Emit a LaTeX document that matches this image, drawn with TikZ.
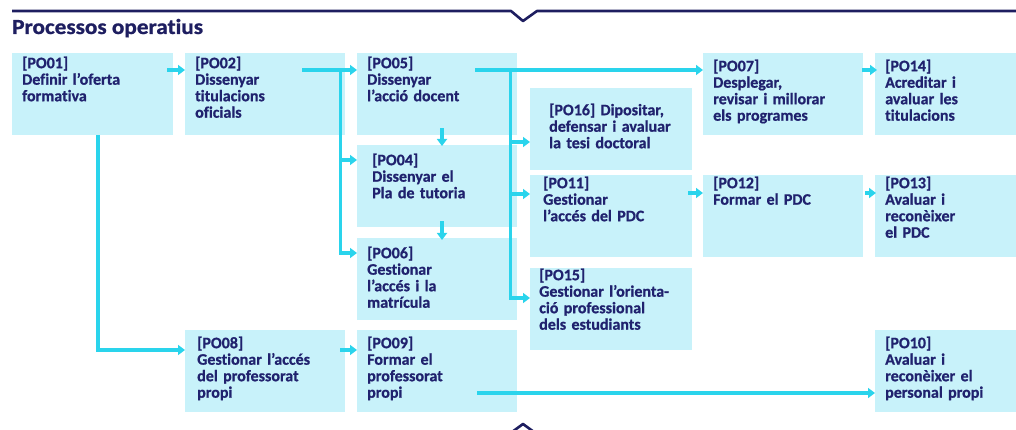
\documentclass[tikz,border=0pt]{standalone}
\usepackage{fontspec}
\setmainfont{Carlito}[Ligatures={NoCommon}, BoldFeatures={FakeBold=0.8}]
\newfontfamily\titlefont{Carlito}[FakeStretch=1.08, Ligatures={NoCommon}, BoldFeatures={FakeBold=1}]
\usetikzlibrary{arrows.meta}
\definecolor{boxfill}{RGB}{200,242,250}
\definecolor{linkcyan}{RGB}{42,212,236}
\definecolor{navy}{RGB}{32,34,110}
\definecolor{barnavy}{RGB}{30,30,96}
\tikzset{
  proc/.style={fill=boxfill, anchor=north west, align=left, text=navy,
    font=\bfseries\fontsize{16}{16.5}\selectfont,
    inner xsep=10pt, inner ysep=0pt, text width=140pt},
  txtop/.code={\pgfmathsetlengthmacro\procdepth{82pt-#1pt}%
    \tikzset{text height=#1pt, text depth/.expanded=\procdepth}},
  link/.style={draw=linkcyan, line width=3.4pt, -{Triangle[width=10pt,length=7pt]}},
  frameline/.style={draw=barnavy, line width=2.6pt, line join=round}
}
\begin{document}
\begin{tikzpicture}[x=1pt, y=-1pt]
  \useasboundingbox (0,0) rectangle (1016,430);
  % frame
  \draw[frameline] (12,11) -- (511,11) -- (523,21) -- (537,11) -- (1016,11);
  \draw[frameline] (512,432) -- (523,424) -- (534,432);
  \node[anchor=base west, text=barnavy, inner sep=0pt,
    font=\titlefont\bfseries\fontsize{21.5}{24}\selectfont] (title) at (12,34) {Processos operatius};
  % boxes
  \node[proc, txtop=15, text width=141pt] (po01) at (12,53) {[PO01]\\Definir l’oferta\\formativa};
  \node[proc, txtop=15] (po02) at (185,53) {[PO02]\\Dissenyar\\titulacions\\oficials};
  \node[proc, txtop=15] (po05) at (357,53) {[PO05]\\Dissenyar\\l’acció docent};
  \node[proc, txtop=20, inner xsep=15pt, text width=130pt] (po04) at (357,145) {[PO04]\\Dissenyar el\\Pla de tutoria};
  \node[proc, txtop=20] (po06) at (357,238) {[PO06]\\Gestionar\\l’accés i la\\matrícula};
  \node[proc, txtop=27, inner xsep=19pt, text width=124pt] (po16) at (530,88) {[PO16] Dipositar,\\defensar i avaluar\\la tesi doctoral};
  \node[proc, txtop=13, inner xsep=13pt, text width=136pt] (po11) at (530,175) {[PO11]\\Gestionar\\l’accés del PDC};
  \node[proc, txtop=12, inner xsep=9pt, text width=144pt] (po15) at (530,268) {[PO15]\\Gestionar l’orienta-\\ció professional\\dels estudiants};
  \node[proc, txtop=18] (po07) at (703,53) {[PO07]\\Desplegar,\\revisar i millorar\\els programes};
  \node[proc, txtop=13] (po12) at (703,175) {[PO12]\\Formar el PDC};
  \node[proc, txtop=18, text width=121pt] (po14) at (875,53) {[PO14]\\Acreditar i\\avaluar les\\titulacions};
  \node[proc, txtop=13, text width=121pt] (po13) at (875,175) {[PO13]\\Avaluar i\\reconèixer\\el PDC};
  \node[proc, txtop=18, inner xsep=12pt, text width=136pt] (po08) at (185,330) {[PO08]\\Gestionar l’accés\\del professorat\\propi};
  \node[proc, txtop=18] (po09) at (357,330) {[PO09]\\Formar el\\professorat\\propi};
  \node[proc, txtop=18, text width=121pt] (po10) at (875,330) {[PO10]\\Avaluar i\\reconèixer el\\personal propi};
  % connectors
  \coordinate (j1) at ([xshift=-5pt,yshift=-17pt]po02.north east);
  \coordinate (j2) at ([xshift=-7pt,yshift=-17pt]po05.north east);
  \draw[link] ([xshift=-6pt,yshift=-17pt]po01.north east) -- ([yshift=-17pt]po02.north west);
  \draw[link] ([xshift=-43pt,yshift=-17pt]po02.north east) -- ([yshift=-17pt]po05.north west);
  \draw[link] (j1) |- ([yshift=-15pt]po04.north west);
  \draw[link] (j1) |- ([yshift=-15pt]po06.north west);
  \draw[link] ([xshift=85pt,yshift=7pt]po05.south west) -- ([xshift=85pt,yshift=-1pt]po04.north west);
  \draw[link] ([xshift=85pt,yshift=6pt]po04.south west) -- ([xshift=85pt,yshift=-2pt]po06.north west);
  \draw[link] ([xshift=-42pt,yshift=-17pt]po05.north east) -- ([yshift=-17pt]po07.north west);
  \draw[link] (j2) |- ([yshift=-54pt]po16.north west);
  \draw[link] (j2) |- ([yshift=-19pt]po11.north west);
  \draw[link] (j2) |- ([yshift=-30pt]po15.north west);
  \draw[link] ([xshift=-1pt,yshift=-17pt]po07.north east) -- ([xshift=2pt,yshift=-17pt]po14.north west);
  \draw[link] ([xshift=-4pt,yshift=-18pt]po11.north east) -- ([yshift=-18pt]po12.north west);
  \draw[link] ([xshift=2pt,yshift=-18pt]po12.north east) -- ([xshift=1pt,yshift=-18pt]po13.north west);
  \draw[link] ([xshift=86pt]po01.south west) |- ([yshift=-20pt]po08.north west);
  \draw[link] ([xshift=-5pt,yshift=-20pt]po08.north east) -- ([yshift=-20pt]po09.north west);
  \draw[link] ([xshift=-40pt,yshift=-63pt]po09.north east) -- ([yshift=-63pt]po10.north west);
\end{tikzpicture}
\end{document}
